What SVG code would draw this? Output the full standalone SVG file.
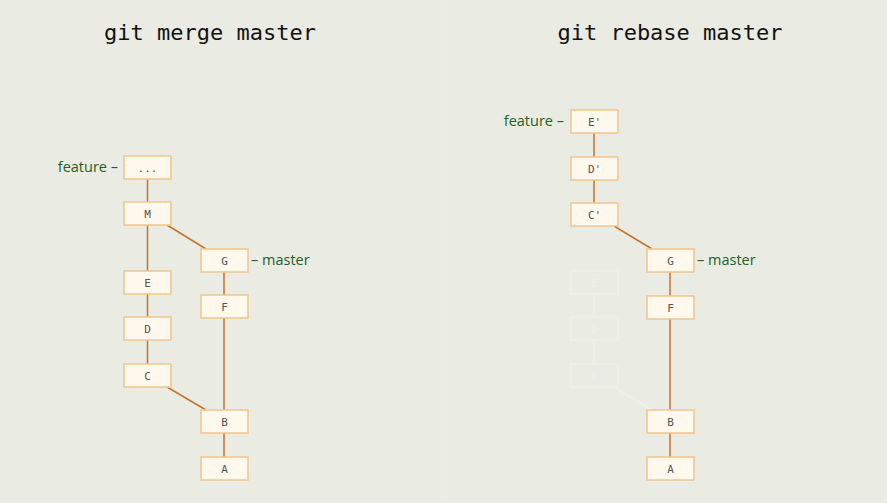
<svg xmlns="http://www.w3.org/2000/svg" width="887" height="503" viewBox="0 0 887 503">
<style>
.title{font-family:"DejaVu Sans Mono","Liberation Mono",monospace;font-size:22px;fill:#111;text-anchor:middle}
.node rect{fill:#fff8ec;stroke:#f0c68e;stroke-width:1.5}
.node text{font-family:"DejaVu Sans Mono","Liberation Mono",monospace;font-size:11px;fill:#555;text-anchor:middle}
.ghost rect{fill:none;stroke:#eff0e9;stroke-width:1.5}
.ghost text{font-family:"DejaVu Sans Mono","Liberation Mono",monospace;font-size:11px;fill:#eff0e9;text-anchor:middle}
.edge{stroke:#c8722d;stroke-width:1.5;fill:none}
.gedge{stroke:#eff0e9;stroke-width:1.5;fill:none}
.lbl{font-family:"Open Sans","Noto Sans",sans-serif;font-size:14.5px;font-weight:500;fill:#23611f}
.end{text-anchor:end}
</style>
<rect width="887" height="503" fill="#eaebe3"/>
<line x1="443" y1="0" x2="443" y2="503" stroke="#edeee7" stroke-width="1"/>
<text class="title" x="210" y="40">git merge master</text>
<text class="title" x="670" y="40">git rebase master</text>

<g id="connectors">
<line class="edge" x1="147.5" y1="179" x2="147.5" y2="202"/>
<line class="edge" x1="147.5" y1="225" x2="147.5" y2="271"/>
<line class="edge" x1="167" y1="225" x2="206" y2="249"/>
<line class="edge" x1="147.5" y1="294" x2="147.5" y2="317"/>
<line class="edge" x1="147.5" y1="340" x2="147.5" y2="364"/>
<line class="edge" x1="167" y1="387" x2="206" y2="410"/>
<line class="edge" x1="224" y1="272" x2="224" y2="295"/>
<line class="edge" x1="224" y1="318" x2="224" y2="410"/>
<line class="edge" x1="224" y1="433" x2="224" y2="457"/>
<line class="edge" x1="594" y1="133" x2="594" y2="157"/>
<line class="edge" x1="594" y1="180" x2="594" y2="203"/>
<line class="edge" x1="614" y1="226" x2="652" y2="249"/>
<line class="edge" x1="670" y1="272" x2="670" y2="296"/>
<line class="edge" x1="670" y1="319" x2="670" y2="410"/>
<line class="edge" x1="670" y1="433" x2="670" y2="457"/>
<line class="gedge" x1="594" y1="294" x2="594" y2="317"/>
<line class="gedge" x1="594" y1="340" x2="594" y2="364"/>
<line class="gedge" x1="614" y1="387" x2="652" y2="410"/>
</g>

<g id="m-dots" class="node"><rect x="124" y="156" width="47" height="23"/><text x="147.5" y="171.5">...</text></g>
<g id="m-M" class="node"><rect x="124" y="202" width="47" height="23"/><text x="147.5" y="217.5">M</text></g>
<g id="m-G" class="node"><rect x="201" y="249" width="47" height="23"/><text x="224.5" y="264.5">G</text></g>
<g id="m-E" class="node"><rect x="124" y="271" width="47" height="23"/><text x="147.5" y="286.5">E</text></g>
<g id="m-F" class="node"><rect x="201" y="295" width="47" height="23"/><text x="224.5" y="310.5">F</text></g>
<g id="m-D" class="node"><rect x="124" y="317" width="47" height="23"/><text x="147.5" y="332.5">D</text></g>
<g id="m-C" class="node"><rect x="124" y="364" width="47" height="23"/><text x="147.5" y="379.5">C</text></g>
<g id="m-B" class="node"><rect x="201" y="410" width="47" height="23"/><text x="224.5" y="425.5">B</text></g>
<g id="m-A" class="node"><rect x="201" y="457" width="47" height="23"/><text x="224.5" y="472.5">A</text></g>
<text class="lbl end" x="118" y="172">feature –</text>
<text class="lbl" x="251" y="265">– master</text>

<g id="r-ghost-E" class="ghost"><rect x="571" y="271" width="47" height="23"/><text x="594.5" y="286.5">E</text></g>
<g id="r-ghost-D" class="ghost"><rect x="571" y="317" width="47" height="23"/><text x="594.5" y="332.5">D</text></g>
<g id="r-ghost-C" class="ghost"><rect x="571" y="364" width="47" height="23"/><text x="594.5" y="379.5">C</text></g>

<g id="r-E2" class="node"><rect x="571" y="110" width="47" height="23"/><text x="594.5" y="125.5">E'</text></g>
<g id="r-D2" class="node"><rect x="571" y="157" width="47" height="23"/><text x="594.5" y="172.5">D'</text></g>
<g id="r-C2" class="node"><rect x="571" y="203" width="47" height="23"/><text x="594.5" y="218.5">C'</text></g>
<g id="r-G" class="node"><rect x="647" y="249" width="47" height="23"/><text x="670.5" y="264.5">G</text></g>
<g id="r-F" class="node"><rect x="647" y="296" width="47" height="23"/><text x="670.5" y="311.5">F</text></g>
<g id="r-B" class="node"><rect x="647" y="410" width="47" height="23"/><text x="670.5" y="425.5">B</text></g>
<g id="r-A" class="node"><rect x="647" y="457" width="47" height="23"/><text x="670.5" y="472.5">A</text></g>
<text class="lbl end" x="564" y="126">feature –</text>
<text class="lbl" x="697" y="265">– master</text>
</svg>
